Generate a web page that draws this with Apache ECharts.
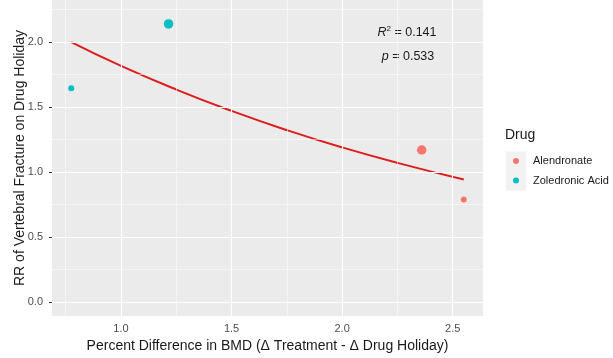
<!DOCTYPE html>
<html>
<head>
<meta charset="utf-8">
<script src="https://cdn.jsdelivr.net/npm/echarts@6/dist/echarts.min.js"></script>
<style>
  html, body { margin: 0; padding: 0; background: #fff; }
  #chart { width: 613px; height: 358px; }
</style>
</head>
<body>
<div id="chart"></div>
<script>
// Study-level results: BMD difference vs relative risk of vertebral fracture
const drugs = ['Alendronate', 'Zoledronic Acid'];
const alendronateBMD = [2.36, 2.55];
const alendronateRR = [1.17, 0.79];
const alendronateWeight = [2, 1];
const zoledronicBMD = [0.775, 1.215];
const zoledronicRR = [1.645, 2.14];
const zoledronicWeight = [1, 2];

// Fitted trend (log-linear fit of RR on BMD difference)
const fitBMD = [0.775, 1.0, 1.25, 1.5, 1.75, 2.0, 2.25, 2.55];
const fitRR = [2.0, 1.817, 1.635, 1.471, 1.323, 1.19, 1.071, 0.943];

// Axis breaks
const xMajor = [1.0, 1.5, 2.0, 2.5];
const xMinor = [0.75, 1.25, 1.75, 2.25];
const yMajor = [0.0, 0.5, 1.0, 1.5, 2.0];
const yMinor = [0.25, 0.75, 1.25, 1.75, 2.25];

const statR2 = '0.141';
const statP = '0.533';

const colors = ['#F8766D', '#00BFC4'];
const sizeFor = w => (w >= 2 ? 9.5 : 6);

const pairs = (xs, ys) => xs.map((x, i) => [x, ys[i]]);

const gridLines = [];
xMajor.forEach(v => gridLines.push({ xAxis: v, lineStyle: { color: '#fff', width: 1.1, type: 'solid' } }));
xMinor.forEach(v => gridLines.push({ xAxis: v, lineStyle: { color: '#fff', width: 0.5, type: 'solid' } }));
yMajor.forEach(v => gridLines.push({ yAxis: v, lineStyle: { color: '#fff', width: 1.1, type: 'solid' } }));
yMinor.forEach(v => gridLines.push({ yAxis: v, lineStyle: { color: '#fff', width: 0.5, type: 'solid' } }));

const font = '"Liberation Sans", Arial, sans-serif';

const chart = echarts.init(document.getElementById('chart'), null, { renderer: 'canvas' });
chart.setOption({
  animation: false,
  backgroundColor: '#ffffff',
  grid: {
    left: 52, right: 130, top: 0, bottom: 41,
    show: true, backgroundColor: '#EBEBEB', borderWidth: 0
  },
  xAxis: {
    type: 'value',
    min: 0.688, max: 2.637,
    name: 'Percent Difference in BMD (\u0394 Treatment - \u0394 Drug Holiday)',
    nameLocation: 'middle',
    nameGap: 23,
    nameMoveOverlap: false,
    nameTextStyle: { fontFamily: font, fontSize: 14, color: '#1a1a1a' },
    axisLine: { show: false },
    axisTick: { show: true, length: 3, customValues: xMajor, lineStyle: { color: '#333', width: 1 } },
    axisLabel: {
      customValues: xMajor, margin: 7,
      fontFamily: font, fontSize: 11, color: '#4D4D4D',
      formatter: v => v.toFixed(1)
    },
    splitLine: { show: false }
  },
  yAxis: {
    type: 'value',
    min: -0.107, max: 2.324,
    name: 'RR of Vertebral Fracture on Drug Holiday',
    nameLocation: 'middle',
    nameGap: 25,
    nameMoveOverlap: false,
    nameTextStyle: { fontFamily: font, fontSize: 14, color: '#1a1a1a' },
    axisLine: { show: false },
    axisTick: { show: true, length: 3, customValues: yMajor, lineStyle: { color: '#333', width: 1 } },
    axisLabel: {
      customValues: yMajor, margin: 9,
      fontFamily: font, fontSize: 11, color: '#4D4D4D',
      formatter: v => v.toFixed(1)
    },
    splitLine: { show: false }
  },
  legend: {
    data: drugs,
    orient: 'vertical',
    left: 508,
    top: 149,
    padding: 5,
    itemWidth: 6,
    itemHeight: 6,
    itemGap: 5.5,
    icon: 'circle',
    textStyle: { fontFamily: font, fontSize: 11, color: '#1a1a1a', lineHeight: 14, padding: [0, 0, 0, 9] }
  },
  graphic: [
    { type: 'rect', z: -1, shape: { x: 506, y: 151.5, width: 20, height: 19.5 }, style: { fill: '#F2F2F2' } },
    { type: 'rect', z: -1, shape: { x: 506, y: 171, width: 20, height: 19.5 }, style: { fill: '#F2F2F2' } },
    { type: 'text', left: 505, top: 128, style: { text: 'Drug', font: '14px ' + font, fill: '#1a1a1a' } },
    {
      type: 'text', x: 407, y: 33,
      style: {
        text: '{i|R}{s|2}{n| = ' + statR2 + '}',
        align: 'center', verticalAlign: 'middle',
        rich: {
          i: { font: 'italic 12.5px ' + font, fill: '#1a1a1a' },
          s: { font: '8px ' + font, fill: '#1a1a1a', verticalAlign: 'top', padding: [0, 0, 8, 0] },
          n: { font: '12.5px ' + font, fill: '#1a1a1a' }
        }
      }
    },
    {
      type: 'text', x: 408, y: 57,
      style: {
        text: '{i|p}{n| = ' + statP + '}',
        align: 'center', verticalAlign: 'middle',
        rich: {
          i: { font: 'italic 12.5px ' + font, fill: '#1a1a1a' },
          n: { font: '12.5px ' + font, fill: '#1a1a1a' }
        }
      }
    }
  ],
  series: [
    {
      name: 'gridlines',
      type: 'line',
      data: [],
      z: 1,
      silent: true,
      markLine: {
        silent: true,
        symbol: ['none', 'none'],
        label: { show: false },
        animation: false,
        data: gridLines
      }
    },
    {
      name: 'fit',
      type: 'line',
      data: pairs(fitBMD, fitRR),
      smooth: true,
      showSymbol: false,
      z: 3,
      lineStyle: { color: '#dd1c1c', width: 2 }
    },
    {
      name: drugs[0],
      type: 'scatter',
      z: 4,
      data: pairs(alendronateBMD, alendronateRR).map((p, i) => ({ value: p, symbolSize: sizeFor(alendronateWeight[i]) })),
      itemStyle: { color: colors[0], opacity: 1 }
    },
    {
      name: drugs[1],
      type: 'scatter',
      z: 4,
      data: pairs(zoledronicBMD, zoledronicRR).map((p, i) => ({ value: p, symbolSize: sizeFor(zoledronicWeight[i]) })),
      itemStyle: { color: colors[1], opacity: 1 }
    }
  ]
});
</script>
</body>
</html>
